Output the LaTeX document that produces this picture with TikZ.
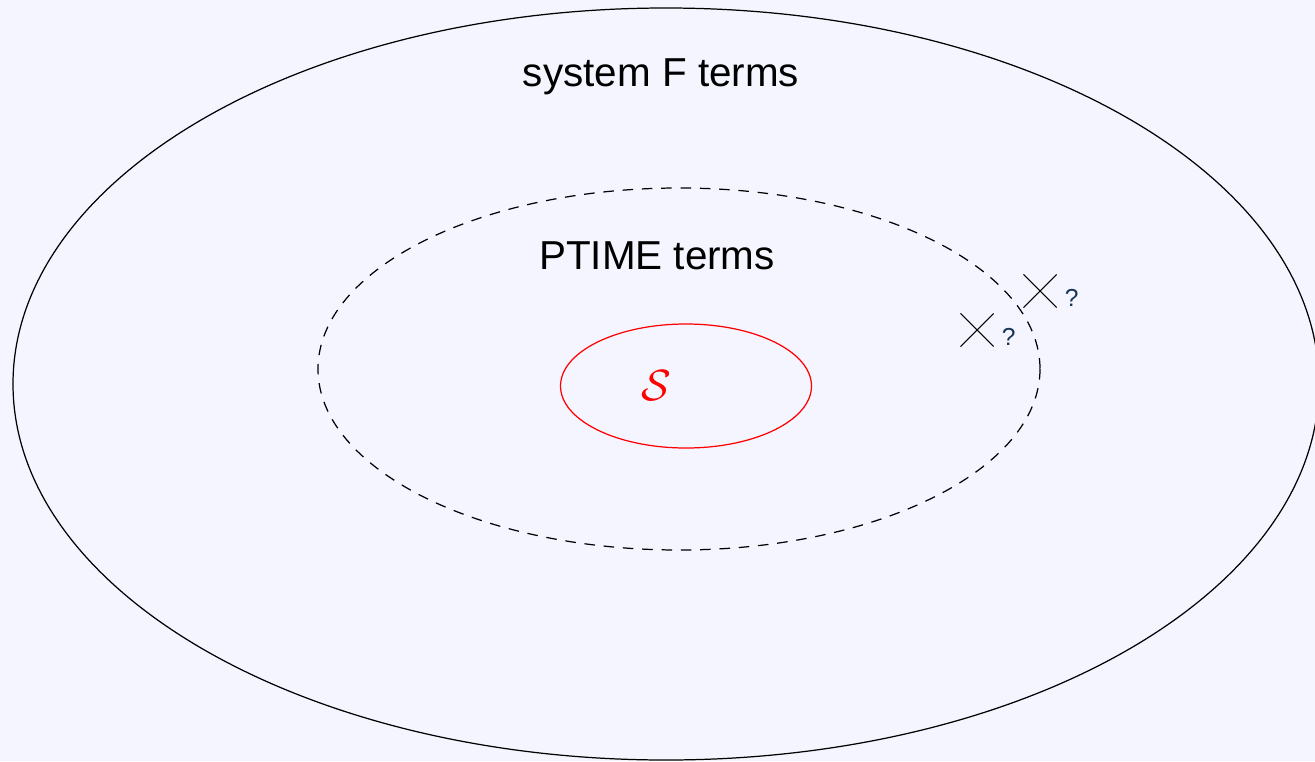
\documentclass[tikz,border=0pt]{standalone}
\usepackage{amsmath, amssymb}
\usepackage{fontspec}
\setmainfont{Liberation Sans}
\usepackage{xcolor}
\usepackage{tikz}
\usetikzlibrary{calc, shapes.misc, positioning}

\definecolor{nen}{RGB}{244,245,254}
\definecolor{hoi}{RGB}{26,52,84}

\begin{document}
\begin{tikzpicture}[x=0.02cm, y=-0.02cm, line width=0.7pt,
    nhan/.style={font=\fontsize{23}{26}\selectfont},
    dauX/.style={draw, cross out, minimum size=0.64cm, inner sep=0pt, line width=0.6pt},
    hoiNhan/.style={text=hoi, font=\fontsize{14}{16}\selectfont, inner sep=1pt}]
    % Khung và nền
    \useasboundingbox (0,0) rectangle (1315,761);
    \fill[nen] (0,0) rectangle (1315,761);
    \clip (0,0) rectangle (1315,761);

    % Tập các term của system F
    \draw (666,384) ellipse [x radius=653, y radius=376];
    \node[nhan] (sysF) at (661,77) {system F terms};

    % Tập các term PTIME
    \draw[dash pattern=on 6pt off 5pt] (679,369) ellipse [x radius=361, y radius=181];
    \node[nhan] (ptime) at (657,256) {PTIME terms};

    % Tập S
    \draw[red] (686,386) ellipse [x radius=125.5, y radius=62];
    \node[red, font=\fontsize{25}{27}\selectfont] (S) at (656,386) {$\mathcal{S}$};

    % Hai điểm chưa biết
    \node[dauX] (x1) at (977,330) {};
    \node[hoiNhan, right=0.12cm of x1.east, anchor=west, yshift=-0.14cm] (h1) {?};
    \node[dauX] (x2) at (1040,291) {};
    \node[hoiNhan, right=0.12cm of x2.east, anchor=west, yshift=-0.14cm] (h2) {?};
\end{tikzpicture}
\end{document}
